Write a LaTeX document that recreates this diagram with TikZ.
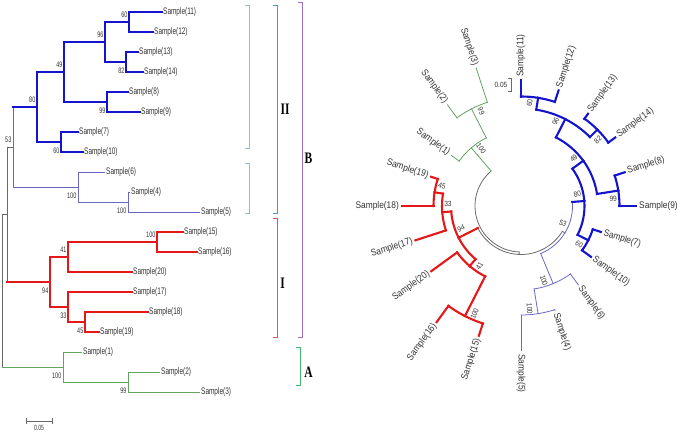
\documentclass[tikz,border=0pt]{standalone}
\usepackage{fontspec}
\setmainfont{Liberation Sans}
\newfontfamily\leaffont[FakeStretch=0.68]{Liberation Sans}
\newfontfamily\ringfont[FakeStretch=0.87]{Liberation Sans}
\newfontfamily\cladefont[FakeStretch=0.72]{Liberation Serif}
\usetikzlibrary{calc}

\definecolor{treeblue}{RGB}{20,20,205}
\definecolor{treered}{RGB}{228,24,24}
\definecolor{treeviolet}{RGB}{104,104,196}
\definecolor{treegreen}{RGB}{96,164,96}
\definecolor{treegray}{RGB}{105,105,105}
\definecolor{leaftext}{RGB}{50,50,50}
\definecolor{brlight}{RGB}{140,190,222}
\definecolor{brblue}{RGB}{72,150,205}
\definecolor{brpurple}{RGB}{162,112,196}
\definecolor{brred}{RGB}{226,84,84}
\definecolor{brgreen}{RGB}{62,180,112}

% one point of the tree, in the rectangular and in the circular drawing
\newcommand{\treept}[3]{%
  \coordinate (L-#1) at (#2,{12+20*#3});
  \coordinate (C-#1) at ($(cen)+({18*#3-90}:{46+0.5*(#2-2)})$);
}
% branch parent -> child: parent style, child style, parent, child
\newcommand{\treebranch}[4]{%
  \draw[#1] (L-#3) -- (L-#3 |- L-#4);
  \draw[#2] (L-#3 |- L-#4) -- (L-#4);
  \draw[#1] let \p1=($(C-#3)-(cen)$), \p2=($(C-#4)-(cen)$),
      \n1={atan2(\y1,\x1)}, \n2={atan2(\y2,\x2)}, \n3={veclen(\x1,\y1)} in
    (C-#3) arc[start angle=\n1, end angle={\n1+mod((\n2)-(\n1)+540,360)-180}, radius=\n3];
  \draw[#2] let \p1=($(C-#3)-(cen)$), \n3={veclen(\x1,\y1)} in
    ($(cen)!\n3!(C-#4)$) -- (C-#4);
}
% bootstrap value: node, value, side (-1 above, 1 below)
\newcommand{\bootval}[3]{%
  \node[lboot] (lb-#1) at ($(L-#1)+(-1,{8*(#3)+0.5})$) {#2};
  \path let \p1=($(C-#1)-(cen)$),
      \n1={atan2(\y1,\x1)-(#3)*458/veclen(\x1,\y1)}, \n2={veclen(\x1,\y1)-6},
      \n3={\n1+180*(cos(\n1)<0)} in
    node[cboot, rotate=\n3] (cb-#1) at ($(cen)+(\n1:\n2)$) {#2};
}

\begin{document}
\begin{tikzpicture}[
	x=1pt, y=-1pt,
	bluebr/.style={treeblue, line width=2.1pt, line cap=rect},
	redbr/.style={treered, line width=2.1pt, line cap=rect},
	violetbr/.style={treeviolet, line width=0.8pt, line cap=rect},
	greenbr/.style={treegreen, line width=0.8pt, line cap=rect},
	graybr/.style={treegray, line width=0.8pt, line cap=rect},
	lleaf/.style={anchor=west, inner sep=1pt, text=leaftext,
		font=\leaffont\fontsize{9.5}{10}\selectfont},
	rleaf/.style={inner sep=1pt, text=leaftext,
		font=\ringfont\fontsize{9.6}{10}\selectfont},
	lboot/.style={anchor=east, inner sep=0.5pt, text=leaftext,
		font=\leaffont\fontsize{8}{9}\selectfont},
	cboot/.style={inner sep=0.5pt, text=leaftext,
		font=\ringfont\fontsize{7.5}{8}\selectfont},
	scalebar/.style={treegray, line width=0.7pt},
	bracket/.style={line width=0.9pt},
	clade/.style={inner sep=0pt, font=\cladefont\bfseries\fontsize{16}{16}\selectfont}
	]
	
	\coordinate (cen) at (521,206);
	\useasboundingbox (0,0) rectangle (685,435);
	
	% Leaves
	\foreach \nm/\xp/\tp in {11/162/0, 12/153/1, 13/138/2, 14/143/3, 8/128/4, 9/140/5,
		7/78/6, 10/83/7, 6/105/8, 4/130/9, 5/200/10, 15/183/11, 16/197/12, 20/132/13,
		17/132/14, 18/148/15, 19/99/16, 1/82/17, 2/160/18, 3/200/19} {
		\treept{\nm}{\xp}{\tp}
		\node[lleaf] (lt-\nm) at (L-\nm) {Sample(\nm)};
		\ifnum\tp<11
			\node[rleaf, anchor=west, rotate={90-18*\tp}] (rt-\nm) at ($(C-\nm)!-2pt!(cen)$) {Sample(\nm)};
		\else
			\node[rleaf, anchor=east, rotate={270-18*\tp}] (rt-\nm) at ($(C-\nm)!-2pt!(cen)$) {Sample(\nm)};
		\fi
	}
	
	% Inner nodes
	\foreach \nm/\xp/\tp in {n1112/129/0.5, n1314/126/2.5, n11to14/105/1.5, n0809/107/4.5,
		n11to9/64/3, n0710/61/6.5, nIIa/37/4.75, n0405/128/9.5, nIIb/78/8.75, nII/13/6.75,
		n1516/157/11.5, n15to20/68/12.25, n1819/85/15.5, n17to19/68/14.75, nI/50/13.5,
		nB/7/10.125, n0203/128/18.5, nA/63/17.75, root/2/13.9375}
		{\treept{\nm}{\xp}{\tp}}
	
	% Branches
	\foreach \pa/\ch/\sa/\sb in {root/nB/graybr/graybr, root/nA/graybr/greenbr,
		nB/nI/graybr/redbr, nB/nII/graybr/graybr,
		nII/nIIa/violetbr/bluebr, nII/nIIb/violetbr/violetbr,
		nIIb/6/violetbr/violetbr, nIIb/n0405/violetbr/violetbr,
		n0405/4/violetbr/violetbr, n0405/5/violetbr/violetbr}
		{\treebranch{\sa}{\sb}{\pa}{\ch}}
	\foreach \pa/\ch in {nIIa/n11to9, nIIa/n0710, n11to9/n11to14, n11to9/n0809,
		n11to14/n1112, n11to14/n1314, n1112/11, n1112/12, n1314/13, n1314/14,
		n0809/8, n0809/9, n0710/7, n0710/10}
		{\treebranch{bluebr}{bluebr}{\pa}{\ch}}
	\foreach \pa/\ch in {nI/n15to20, nI/n17to19, n15to20/n1516, n15to20/20,
		n1516/15, n1516/16, n17to19/17, n17to19/n1819, n1819/18, n1819/19}
		{\treebranch{redbr}{redbr}{\pa}{\ch}}
	\foreach \pa/\ch in {nA/1, nA/n0203, n0203/2, n0203/3}
		{\treebranch{greenbr}{greenbr}{\pa}{\ch}}
	
	% Bootstrap values
	\foreach \nm/\bv/\sd in {n1112/60/-1, n1314/82/1, n11to14/96/-1, n0809/99/1,
		n11to9/49/-1, n0710/60/1, nIIa/80/-1, n0405/100/1, nIIb/100/1, nII/53/-1,
		n1516/100/-1, n15to20/41/-1, n1819/45/1, n17to19/33/1, nI/94/1,
		n0203/99/1, nA/100/1}
		{\bootval{\nm}{\bv}{\sd}}
	
	% Scale bars
	\coordinate (sbl) at (26,421);
	\coordinate (sbr) at (52,421);
	\draw[scalebar] (sbl) -- (sbr);
	\draw[scalebar] ($(sbl)+(0,-3)$) -- ($(sbl)+(0,3)$);
	\draw[scalebar] ($(sbr)+(0,-3)$) -- ($(sbr)+(0,3)$);
	\node[lboot, anchor=north, font=\leaffont\fontsize{7.5}{8}\selectfont] (sbtext) at ($(sbl)!0.5!(sbr)+(0,4)$) {0.05};
	\coordinate (sct) at (511,78);
	\coordinate (scb) at (511,91);
	\draw[scalebar] ($(sct)+(-3,0)$) -- (sct) -- (scb) -- ($(scb)+(-3,0)$);
	\node[cboot, anchor=east] (sctext) at ($(sct)!0.5!(scb)+(-3,0)$) {0.05};
	
	% Brackets
	\draw[bracket, brlight] (245,5) -| (249,148) -- (245,148);
	\draw[bracket, brlight] (245,163) -| (249,213) -- (245,213);
	\draw[bracket, brblue] (273,5) -| (277,213) -- (273,213);
	\draw[bracket, brpurple] (298,2) -| (302,337) -- (298,337);
	\draw[bracket, brred] (273,218) -| (277,337) -- (273,337);
	\draw[bracket, brgreen] (296,347) -| (300,385) -- (296,385);
	\node[clade] (cII) at (285,109) {II};
	\node[clade] (cB) at (308.5,158) {B};
	\node[clade] (cI) at (282.5,283) {I};
	\node[clade] (cA) at (308.5,372) {A};
	
\end{tikzpicture}
\end{document}
